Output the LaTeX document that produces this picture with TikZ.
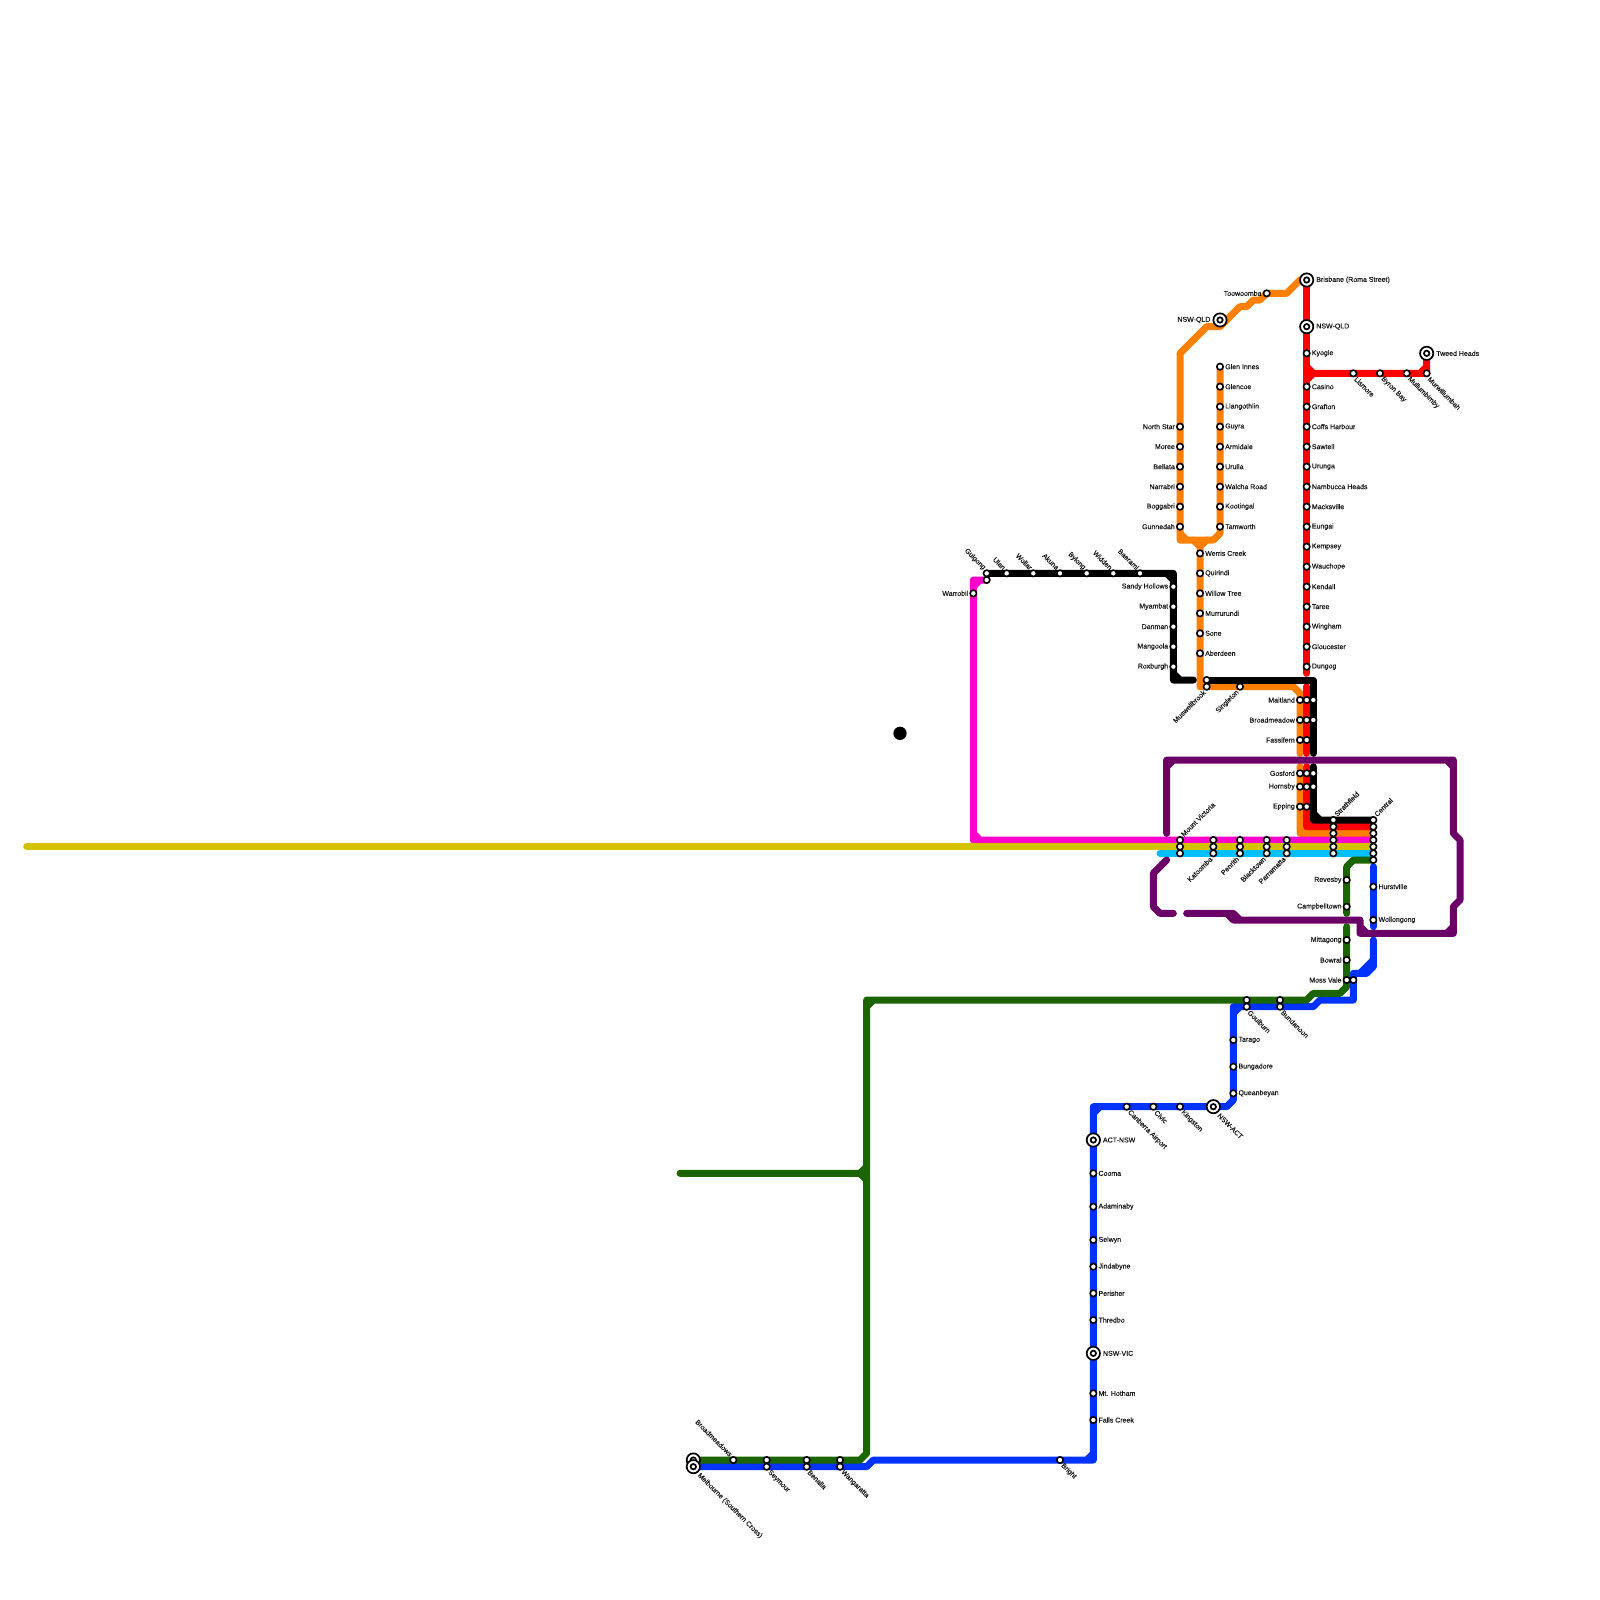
\documentclass[tikz,border=0pt]{standalone}
\usepackage{fontspec}
\setmainfont{Liberation Sans}[FakeBold=0.5]
\newfontfamily\stnfont{Liberation Sans}[FakeBold=0.5]
\usetikzlibrary{backgrounds}
\definecolor{orangeln}{HTML}{FF7F00}
\definecolor{redln}{HTML}{FF0000}
\definecolor{magentaln}{HTML}{FF00CC}
\definecolor{yellowln}{HTML}{D4C200}
\definecolor{cyanln}{HTML}{00BFFF}
\definecolor{greenln}{HTML}{1C6400}
\definecolor{blueln}{HTML}{0033FF}
\definecolor{purpleln}{HTML}{6B0066}

\begin{document}
\begin{tikzpicture}[x=6.6667pt, y=-6.6667pt, every node/.style={font=\stnfont\fontsize{7}{8}\selectfont},
  line/.style={line width=7pt, line cap=round, line join=round},
  stn/.style={circle, draw=black, fill=white, line width=1.6pt, inner sep=0pt, outer sep=0pt, minimum size=6.4pt},
  hub/.style={circle, draw=black, fill=white, line width=1.7pt, inner sep=0pt, outer sep=1pt, minimum size=13.3pt,
    path picture={\draw[black, line width=1.7pt, fill=white] (path picture bounding box.center) circle (2.7pt);}},
  lbl/.style={inner sep=0pt, outer sep=0pt, text=black!90},
  txtr/.style={label={[lbl, label distance=2pt]0:#1}},
  txtl/.style={label={[lbl, label distance=2pt]180:#1}},
  txtdr/.style={label={[lbl, label distance=2.5pt, rotate=-45, anchor=west]-45:#1}},
  txtul/.style={label={[lbl, label distance=2.5pt, rotate=-45, anchor=east]135:#1}},
  txtur/.style={label={[lbl, label distance=2.5pt, rotate=45, anchor=west]45:#1}},
  txtdl/.style={label={[lbl, label distance=2.5pt, rotate=45, anchor=east]225:#1}}]
  \useasboundingbox (0,0) rectangle (240,240);
  \node[circle, fill=black, inner sep=0pt, minimum size=13.3pt] (dot) at (135,110) {};
  % Brisbane to Sydney and the Tweed branch
  \node[hub, txtr={Brisbane (Roma Street)}] (brisbane) at (196,42) {};
  \node[hub, txtr=NSW-QLD] (qldnorth) at (196,49) {};
  \node[stn, txtr=Kyogle] (kyogle) at (196,53) {};
  \node[stn, txtr=Casino] (casino) at (196,58) {};
  \node[stn, txtr=Grafton] (grafton) at (196,61) {};
  \node[stn, txtr=Coffs Harbour] (coffs) at (196,64) {};
  \node[stn, txtr=Sawtell] (sawtell) at (196,67) {};
  \node[stn, txtr=Urunga] (urunga) at (196,70) {};
  \node[stn, txtr=Nambucca Heads] (nambucca) at (196,73) {};
  \node[stn, txtr=Macksville] (macksville) at (196,76) {};
  \node[stn, txtr=Eungai] (eungai) at (196,79) {};
  \node[stn, txtr=Kempsey] (kempsey) at (196,82) {};
  \node[stn, txtr=Wauchope] (wauchope) at (196,85) {};
  \node[stn, txtr=Kendall] (kendall) at (196,88) {};
  \node[stn, txtr=Taree] (taree) at (196,91) {};
  \node[stn, txtr=Wingham] (wingham) at (196,94) {};
  \node[stn, txtr=Gloucester] (gloucester) at (196,97) {};
  \node[stn, txtr=Dungog] (dungog) at (196,100) {};
  \node[stn, txtdr=Lismore] (lismore) at (203,56) {};
  \node[stn, txtdr=Byron Bay] (byron) at (207,56) {};
  \node[stn, txtdr=Mullumbimby] (mullum) at (211,56) {};
  \node[stn, txtdr=Murwillumbah] (murwill) at (214,56) {};
  \node[hub, txtr=Tweed Heads] (tweed) at (214,53) {};
  % New England
  \node[hub, txtl=NSW-QLD] (qldwest) at (183,48) {};
  \node[stn, txtl=Toowoomba] (toowoomba) at (190,44) {};
  \node[stn, txtr=Glen Innes] (gleninnes) at (183,55) {};
  \node[stn, txtr=Glencoe] (glencoe) at (183,58) {};
  \node[stn, txtr=Llangothlin] (llangothlin) at (183,61) {};
  \node[stn, txtr=Guyra] (guyra) at (183,64) {};
  \node[stn, txtr=Armidale] (armidale) at (183,67) {};
  \node[stn, txtr=Urulla] (urulla) at (183,70) {};
  \node[stn, txtr=Walcha Road] (walcha) at (183,73) {};
  \node[stn, txtr=Kootingal] (kootingal) at (183,76) {};
  \node[stn, txtr=Tamworth] (tamworth) at (183,79) {};
  \node[stn, txtl=North Star] (northstar) at (177,64) {};
  \node[stn, txtl=Moree] (moree) at (177,67) {};
  \node[stn, txtl=Bellata] (bellata) at (177,70) {};
  \node[stn, txtl=Narrabri] (narrabri) at (177,73) {};
  \node[stn, txtl=Boggabri] (boggabri) at (177,76) {};
  \node[stn, txtl=Gunnedah] (gunnedah) at (177,79) {};
  \node[stn, txtr=Werris Creek] (werris) at (180,83) {};
  \node[stn, txtr=Quirindi] (quirindi) at (180,86) {};
  \node[stn, txtr=Willow Tree] (willow) at (180,89) {};
  \node[stn, txtr=Murrurundi] (murrurundi) at (180,92) {};
  \node[stn, txtr=Sone] (sone) at (180,95) {};
  \node[stn, txtr=Aberdeen] (aberdeen) at (180,98) {};
  \node[stn] (muswellblk) at (181,102) {};
  \node[stn, txtdl=Muswellbrook] (muswellbrook) at (181,103) {};
  \node[stn, txtdl=Singleton] (singleton) at (186,103) {};
  % Gulgong line
  \node[stn, txtul=Gulgong] (gulgong) at (148,86) {};
  \node[stn] (gulgongmag) at (148,87) {};
  \node[stn, txtl=Warrobil] (warrobil) at (146,89) {};
  \node[stn, txtul=Ulan] (ulan) at (151,86) {};
  \node[stn, txtul=Wollar] (wollar) at (155,86) {};
  \node[stn, txtul=Akuna] (akuna) at (159,86) {};
  \node[stn, txtul=Bylong] (bylong) at (163,86) {};
  \node[stn, txtul=Widden] (widden) at (167,86) {};
  \node[stn, txtul=Baerami] (baerami) at (171,86) {};
  \node[stn, txtl=Sandy Hollows] (sandy) at (176,88) {};
  \node[stn, txtl=Myambat] (myambat) at (176,91) {};
  \node[stn, txtl=Danman] (danman) at (176,94) {};
  \node[stn, txtl=Mangoola] (mangoola) at (176,97) {};
  \node[stn, txtl=Roxburgh] (roxburgh) at (176,100) {};
  % Hunter and Central Coast
  \node[stn, txtl=Maitland] (maitland) at (195,105) {};
  \node[stn] (maitlandred) at (196,105) {};
  \node[stn] (maitlandblk) at (197,105) {};
  \node[stn, txtl=Broadmeadow] (broadmeadow) at (195,108) {};
  \node[stn] (broadmeadowred) at (196,108) {};
  \node[stn] (broadmeadowblk) at (197,108) {};
  \node[stn, txtl=Fassifern] (fassifern) at (195,111) {};
  \node[stn] (fassifernred) at (196,111) {};
  \node[stn, txtl=Gosford] (gosford) at (195,116) {};
  \node[stn] (gosfordred) at (196,116) {};
  \node[stn] (gosfordblk) at (197,116) {};
  \node[stn, txtl=Hornsby] (hornsby) at (195,118) {};
  \node[stn] (hornsbyred) at (196,118) {};
  \node[stn] (hornsbyblk) at (197,118) {};
  \node[stn, txtl=Epping] (epping) at (195,121) {};
  \node[stn] (eppingred) at (196,121) {};
  % Western stack
  \node[stn, txtur=Mount Victoria] (mtvictoria) at (177,126) {};
  \node[stn] (mtvictoriab) at (177,127) {};
  \node[stn] (mtvictoriac) at (177,128) {};
  \node[stn] (katoombaa) at (182,126) {};
  \node[stn] (katoombab) at (182,127) {};
  \node[stn, txtdl=Katoomba] (katoomba) at (182,128) {};
  \node[stn] (penritha) at (186,126) {};
  \node[stn] (penrithb) at (186,127) {};
  \node[stn, txtdl=Penrith] (penrith) at (186,128) {};
  \node[stn] (blacktowna) at (190,126) {};
  \node[stn] (blacktownb) at (190,127) {};
  \node[stn, txtdl=Blacktown] (blacktown) at (190,128) {};
  \node[stn] (parramattaa) at (193,126) {};
  \node[stn] (parramattab) at (193,127) {};
  \node[stn, txtdl=Parramatta] (parramatta) at (193,128) {};
  \node[stn, txtur=Strathfield] (strathfield) at (200,123) {};
  \node[stn] (strathfieldb) at (200,124) {};
  \node[stn] (strathfieldc) at (200,125) {};
  \node[stn] (strathfieldd) at (200,126) {};
  \node[stn] (strathfielde) at (200,127) {};
  \node[stn] (strathfieldf) at (200,128) {};
  \node[stn, txtur=Central] (central) at (206,123) {};
  \node[stn] (centralred) at (206,124) {};
  \node[stn] (centralorg) at (206,125) {};
  \node[stn] (centralmag) at (206,126) {};
  \node[stn] (centralyel) at (206,127) {};
  \node[stn] (centralcyn) at (206,128) {};
  \node[stn] (centralgrn) at (206,129) {};
  % South
  \node[stn, txtr=Hurstville] (hurstville) at (206,133) {};
  \node[stn, txtr=Wollongong] (wollongong) at (206,138) {};
  \node[stn, txtl=Revesby] (revesby) at (202,132) {};
  \node[stn, txtl=Campbelltown] (campbelltown) at (202,136) {};
  \node[stn, txtl=Mittagong] (mittagong) at (202,141) {};
  \node[stn, txtl=Bowral] (bowral) at (202,144) {};
  \node[stn, txtl=Moss Vale] (mossvale) at (202,147) {};
  \node[stn] (mossvaleblu) at (203,147) {};
  \node[stn] (bundanoongrn) at (192,150) {};
  \node[stn, txtdr=Bundanoon] (bundanoon) at (192,151) {};
  \node[stn] (goulburngrn) at (187,150) {};
  \node[stn, txtdr=Goulburn] (goulburn) at (187,151) {};
  \node[stn, txtr=Tarago] (tarago) at (185,156) {};
  \node[stn, txtr=Bungadore] (bungadore) at (185,160) {};
  \node[stn, txtr=Queanbeyan] (queanbeyan) at (185,164) {};
  \node[hub, txtdr=NSW-ACT] (nswact) at (182,166) {};
  \node[stn, txtdr=Kingston] (kingston) at (177,166) {};
  \node[stn, txtdr=Civic] (civic) at (173,166) {};
  \node[stn, txtdr=Canberra Airport] (canberra) at (169,166) {};
  \node[hub, txtr=ACT-NSW] (actnsw) at (164,171) {};
  \node[stn, txtr=Cooma] (cooma) at (164,176) {};
  \node[stn, txtr=Adaminaby] (adaminaby) at (164,181) {};
  \node[stn, txtr=Selwyn] (selwyn) at (164,186) {};
  \node[stn, txtr=Jindabyne] (jindabyne) at (164,190) {};
  \node[stn, txtr=Perisher] (perisher) at (164,194) {};
  \node[stn, txtr=Thredbo] (thredbo) at (164,198) {};
  \node[hub, txtr=NSW-VIC] (nswvic) at (164,203) {};
  \node[stn, txtr={Mt. Hotham}] (hotham) at (164,209) {};
  \node[stn, txtr=Falls Creek] (falls) at (164,213) {};
  \node[stn, txtdr=Bright] (bright) at (159,219) {};
  \node[stn] (wangarattagrn) at (126,219) {};
  \node[stn, txtdr=Wangaratta] (wangaratta) at (126,220) {};
  \node[stn] (benallagrn) at (121,219) {};
  \node[stn, txtdr=Benalla] (benalla) at (121,220) {};
  \node[stn] (seymourgrn) at (115,219) {};
  \node[stn, txtdr=Seymour] (seymour) at (115,220) {};
  \node[stn, txtul=Broadmeadows] (broadmeadows) at (110,219) {};
  \node[hub] (melbournegrn) at (104,219) {};
  \node[hub, txtdr={Melbourne (Southern Cross)}] (melbourne) at (104,220) {};
  % free line ends
  \coordinate (yellowend) at (4,127);
  \coordinate (cyanend) at (174,128);
  \coordinate (greenend) at (102,176);
  \coordinate (blackend) at (179,102);
  \coordinate (redgap) at (196,101);
  \coordinate (redtop) at (196,103);
  \coordinate (redlow) at (196,113);
  \coordinate (redhigh) at (196,115);
  \coordinate (orangelow) at (195,113);
  \coordinate (orangehigh) at (195,115);
  \coordinate (blacklow) at (197,113);
  \coordinate (blackhigh) at (197,115);
  \coordinate (greenlow) at (202,137);
  \coordinate (greenhigh) at (202,139);
  \coordinate (bluelow) at (206,139);
  \coordinate (bluehigh) at (206,141);
  \coordinate (bluetop) at (206,130);
  \coordinate (purplea) at (175,125);
  \coordinate (purpleb) at (175,129);
  \coordinate (purplec) at (176,137);
  \coordinate (purpled) at (178,137);
  \begin{scope}[on background layer]
    \draw[line, orangeln] (brisbane.center) -- (195,42) -- (193,44) -- (toowoomba.center) -- (189,45) -- (188,45) -- (187,46) -- (186,46) -- (183,49) -- (181,49) -- (177,53) -- (177,81) -- (182,81) -- (183,80) -- (gleninnes.center) (177,80) -- (178,81);
    \draw[line, orangeln] (179,81) -- (180,82) -- (181,81) (werris.center) -- (180,103) -- (194,103) -- (195,104) -- (orangelow) (180,82) -- (180,83) (180,102) -- (181,103);
    \draw[line, orangeln] (orangehigh) -- (195,125) -- (centralorg.center) (195,124) -- (196,125);
    \draw[line, redln] (brisbane.center) -- (redgap);
    \draw[line, redln] (redtop) -- (redlow);
    \draw[line, redln] (redhigh) -- (196,124) -- (centralred.center) (196,123) -- (197,124);
    \draw[line, redln] (196,55) -- (197,56) -- (196,57) (197,56) -- (murwill.center) -- (tweed.center) (213,56) -- (214,55);
    \draw[line, black] (gulgong.center) -- (176,86) -- (176,102) -- (blackend) (175,86) -- (176,87) (176,101) -- (177,102);
    \draw[line, black] (muswellblk.center) -- (197,102) -- (blacklow);
    \draw[line, black] (blackhigh) -- (197,123) -- (central.center) (197,122) -- (198,123);
    \draw[line, magentaln] (gulgongmag.center) -- (146,87) -- (146,126) -- (centralmag.center) (146,88) -- (147,87) (146,125) -- (147,126);
    \draw[line, yellowln] (yellowend) -- (centralyel.center);
    \draw[line, cyanln] (cyanend) -- (centralcyn.center);
    \draw[line, blueln] (bluetop) -- (bluelow);
    \draw[line, blueln] (bluehigh) -- (206,145) -- (205,146) -- (203,146) -- (203,150) -- (198,150) -- (197,151) -- (185,151) -- (185,165) -- (184,166) -- (164,166) -- (164,219) -- (131,219) -- (130,220) -- (melbourne.center) (206,144) -- (204,146) (185,152) -- (186,151) (164,167) -- (165,166) (163,219) -- (164,218);
    \draw[line, greenln] (centralgrn.center) -- (203,129) -- (202,130) -- (greenlow);
    \draw[line, greenln] (greenhigh) -- (202,148) -- (201,149) -- (197,149) -- (196,150) -- (130,150) -- (130,218) -- (129,219) -- (melbournegrn.center) (130,151) -- (131,150);
    \draw[line, greenln] (greenend) -- (129,176) -- (130,175) (129,176) -- (130,177);
    \draw[line, purpleln] (purplea) -- (175,114) -- (218,114) -- (218,125) -- (219,126) -- (219,135) -- (218,136) -- (218,140) -- (204,140) -- (204,138) -- (186,138) -- (185,137) -- (purpled) (175,115) -- (176,114) (217,114) -- (218,115) (217,140) -- (218,139) (204,139) -- (205,140) (184,137) -- (185,138) -- (186,138);
    \draw[line, purpleln] (purpleb) -- (173,131) -- (173,136) -- (174,137) -- (purplec);
  \end{scope}
\end{tikzpicture}
\end{document}
